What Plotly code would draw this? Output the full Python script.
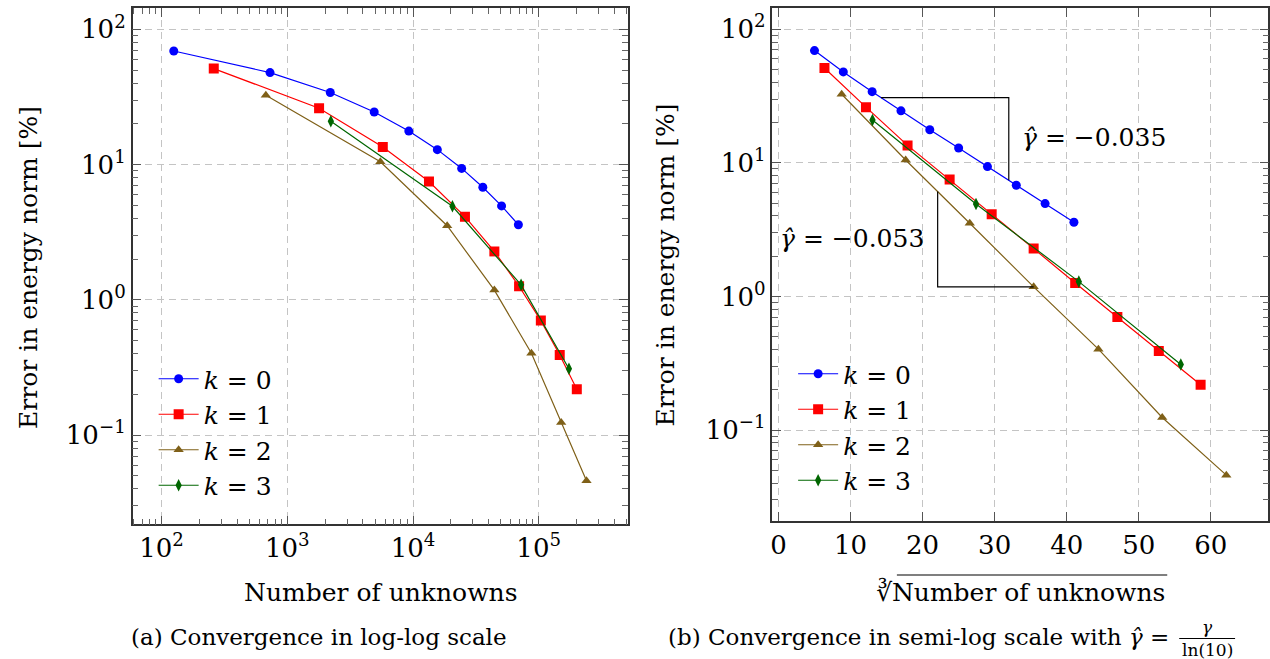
import math
import plotly.graph_objects as go

# Number of unknowns and error in energy norm [%] for each polynomial degree k
n_k0 = [125, 729, 2197, 4913, 9261, 15625, 24389, 35937, 50653, 68921]
err_k0 = [69.2, 47.9, 34.1, 24.5, 17.7, 12.9, 9.37, 6.80, 4.95, 3.59]

n_k1 = [260, 1790, 5750, 13400, 25900, 44400, 69800, 104000, 147000, 201000]
err_k1 = [51.3, 26.1, 13.5, 7.49, 4.12, 2.28, 1.26, 0.702, 0.391, 0.218]

n_k2 = [675, 5500, 18700, 44400, 87500, 151000, 240000]
err_k2 = [32.6, 10.5, 3.53, 1.18, 0.403, 0.124, 0.0459]

n_k3 = [2220, 20600, 72400, 174000]
err_k3 = [20.9, 4.92, 1.29, 0.309]

series_names = ["<i>k</i> = 0", "<i>k</i> = 1", "<i>k</i> = 2", "<i>k</i> = 3"]

# decade ticks for the log axes
x_decades = [1e2, 1e3, 1e4, 1e5]
x_decade_text = ["10<sup>2</sup>", "10<sup>3</sup>", "10<sup>4</sup>", "10<sup>5</sup>"]
y_decades = [1e-1, 1e0, 1e1, 1e2]
y_decade_text = ["10<sup>−1</sup>", "10<sup>0</sup>", "10<sup>1</sup>", "10<sup>2</sup>"]

# slope triangles in the semi-log panel (cube root of unknowns, error)
tri_upper_x = [14.23, 31.96, 31.96]
tri_upper_y = [30.8, 30.8, 7.39]
tri_lower_x = [22.09, 22.09, 35.41]
tri_lower_y = [6.09, 1.18, 1.18]
slope_labels = ["<i>γ̂</i> = −0.035", "<i>γ̂</i> = −0.053"]

W, H = 1270, 659
FONT = "DejaVu Serif"

colors = ["#0000ff", "#ff0000", "#7f6018", "#006600"]
symbols = ["circle", "square", "triangle-up", "diamond-tall"]
msizes = [9, 10, 9, 9]

ns = [n_k0, n_k1, n_k2, n_k3]
errs = [err_k0, err_k1, err_k2, err_k3]


def px(x):
    return x / W


def py(y):
    return 1 - y / H


fig = go.Figure()

for i in range(4):
    style = dict(
        mode="lines+markers",
        line=dict(color=colors[i], width=1.2),
        marker=dict(symbol=symbols[i], size=msizes[i], color=colors[i]),
        name=series_names[i],
    )
    fig.add_trace(go.Scatter(x=ns[i], y=errs[i], xaxis="x", yaxis="y",
                             legend="legend", legendgroup=f"a{i}", **style))
    fig.add_trace(go.Scatter(x=[v ** (1 / 3) for v in ns[i]], y=errs[i],
                             xaxis="x2", yaxis="y2", legend="legend2",
                             legendgroup=f"b{i}", **style))

for tx, ty in [(tri_upper_x, tri_upper_y), (tri_lower_x, tri_lower_y)]:
    fig.add_trace(go.Scatter(x=tx, y=ty, xaxis="x2", yaxis="y2", mode="lines",
                             line=dict(color="black", width=1.2),
                             showlegend=False, hoverinfo="skip"))

grid = dict(showgrid=True, gridcolor="#c4c4c4", griddash="7px,5px", gridwidth=1)
frame = dict(showline=True, linecolor="#333333", linewidth=1.5, mirror="allticks",
             ticks="inside", tickcolor="#555555", ticklen=9, tickwidth=1,
             zeroline=False, tickfont=dict(family=FONT, size=26, color="black"))
minor_log = dict(ticks="inside", ticklen=6, tickcolor="#666666", tickwidth=1,
                 dtick="D1", showgrid=False)
log_x = dict(type="log", tickmode="array", tickvals=x_decades, ticktext=x_decade_text,
             minor=minor_log)
log_y = dict(type="log", tickmode="array", tickvals=y_decades, ticktext=y_decade_text,
             minor=minor_log)

fig.update_layout(
    width=W, height=H,
    margin=dict(l=0, r=0, t=0, b=0),
    paper_bgcolor="white", plot_bgcolor="white",
    font=dict(family=FONT, color="black"),
    xaxis=dict(domain=[px(131), px(627.3)], range=[1.770, 5.709], anchor="y",
               **log_x, **grid, **frame),
    yaxis=dict(domain=[py(524.3), py(8)], range=[-1.660, 2.158], anchor="x",
               **log_y, **grid, **frame),
    xaxis2=dict(type="linear", domain=[px(772.3), px(1269.3)], range=[-0.83, 67.97],
                anchor="y2", dtick=10, tick0=0, **grid, **frame),
    yaxis2=dict(domain=[py(520.7), py(8)], range=[-1.679, 2.159], anchor="x2",
                **log_y, **grid, **frame),
    legend=dict(x=px(152), y=py(356), xanchor="left", yanchor="top",
                bgcolor="rgba(0,0,0,0)", font=dict(family=FONT, size=25),
                tracegroupgap=0, itemwidth=40),
    legend2=dict(x=px(793), y=py(351), xanchor="left", yanchor="top",
                 bgcolor="rgba(0,0,0,0)", font=dict(family=FONT, size=25),
                 tracegroupgap=0, itemwidth=40),
    showlegend=True,
)

center = dict(xref="paper", yref="paper", showarrow=False, xanchor="center", yanchor="middle")
ann = []
# axis titles
ann.append(dict(text="Number of unknowns", x=px(379), y=py(592), font=dict(size=25), **center))
ann.append(dict(text="∛Number of unknowns", x=px(1021), y=py(592), font=dict(size=25), **center))
ann.append(dict(text="Error in energy norm [%]", x=px(26), y=py(267), textangle=-90,
                font=dict(size=25), **center))
ann.append(dict(text="Error in energy norm [%]", x=px(665), y=py(265), textangle=-90,
                font=dict(size=25), **center))
# sub-figure captions
ann.append(dict(text="(a) Convergence in log-log scale", x=px(317.5), y=py(637),
                font=dict(size=23), **center))
ann.append(dict(text="(b) Convergence in semi-log scale with <i>γ̂</i> =", x=px(1172), y=py(637),
                xref="paper", yref="paper", xanchor="right", yanchor="middle",
                showarrow=False, font=dict(size=23)))
ann.append(dict(text="<i>γ</i>", x=px(1208), y=py(627), font=dict(size=17), **center))
ann.append(dict(text="ln(10)", x=px(1208), y=py(650), font=dict(size=17), **center))
# slope labels
ann.append(dict(text=slope_labels[0], x=33.5, y=math.log10(15.4), xref="x2", yref="y2",
                xanchor="left", yanchor="middle", showarrow=False, font=dict(size=25)))
ann.append(dict(text=slope_labels[1], x=20.5, y=math.log10(2.73), xref="x2", yref="y2",
                xanchor="right", yanchor="middle", showarrow=False, font=dict(size=25)))
fig.update_layout(annotations=ann)

# fraction bar of the caption and the radical's vinculum
fig.add_shape(type="line", xref="paper", yref="paper", x0=px(1180), x1=px(1236),
              y0=py(638.5), y1=py(638.5), line=dict(color="black", width=1))
fig.add_shape(type="line", xref="paper", yref="paper", x0=px(897), x1=px(1168),
              y0=py(575), y1=py(575), line=dict(color="black", width=1.2))

fig.write_html("out.html")
